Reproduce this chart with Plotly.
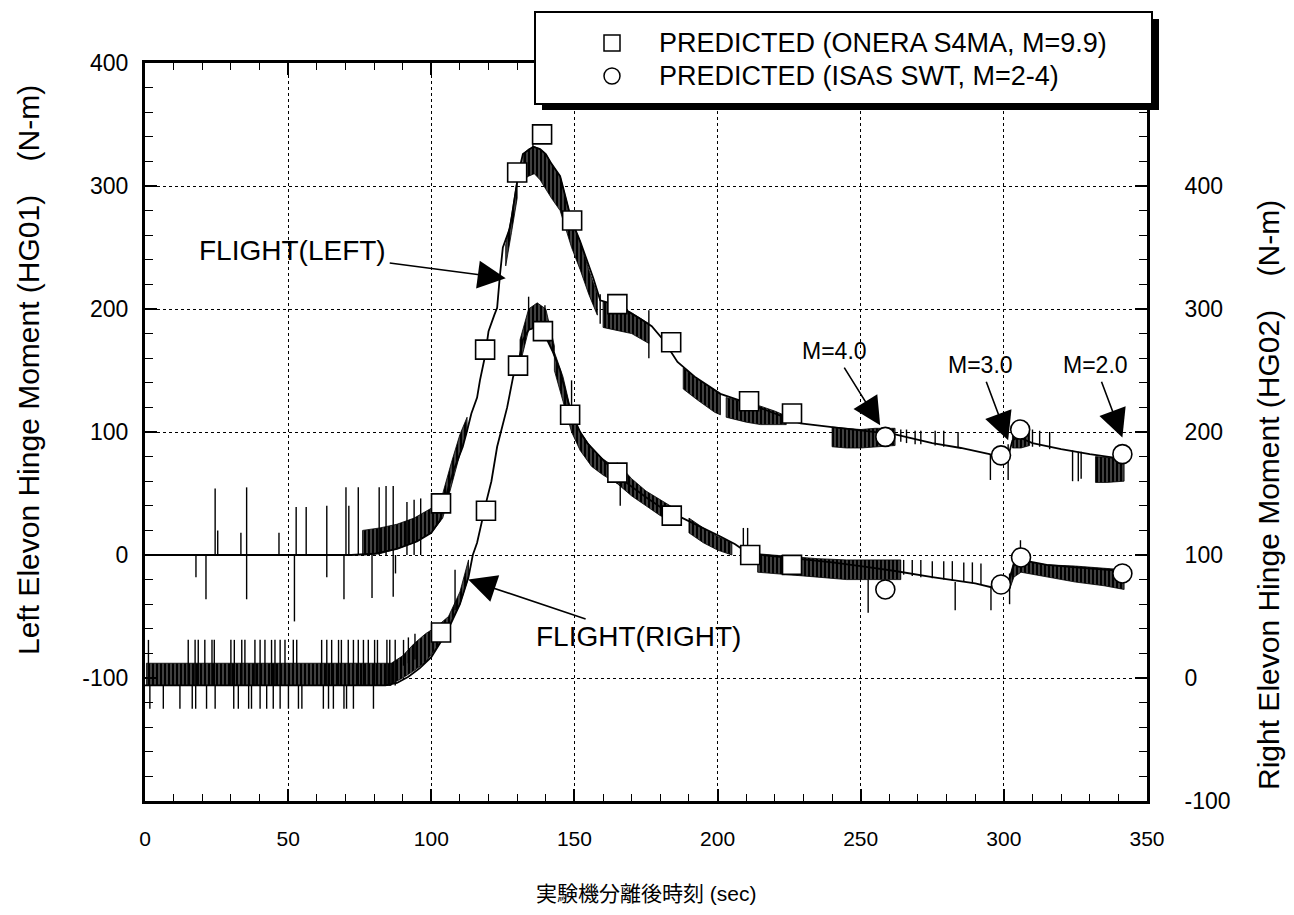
import plotly.graph_objects as go

# ---------------- data ----------------
# Left elevon (HG01) flight trace, left-axis units (N-m)
left_t = [0, 72, 80, 88, 95, 100, 103, 106, 108, 110, 111, 112.5, 114, 116, 117, 118.8, 120, 122, 123,
          124, 125, 127.5, 129, 130.5, 132, 135.6, 138, 140, 142, 145, 147, 149, 152, 156.6, 159, 165,
          173, 177, 181, 186, 192, 201, 211, 220, 229, 240, 252, 262, 275, 285, 295, 298, 301.5, 303,
          305, 310, 320, 330, 342]
left_v = [0, 0, 1, 5, 11, 18, 28, 55, 70, 82, 88, 101, 115, 128, 142, 162, 182, 195, 201,
          228, 250, 266, 288, 311, 326, 332, 330, 326, 318, 308, 290, 272, 255, 225, 207, 203,
          192, 186, 175, 157, 145, 131, 123, 115, 107, 104, 101, 98, 91, 87, 82, 80, 80, 93,
          96, 91, 86, 82, 78]

# hatched noise bands of the left trace: (time, lower, upper)
left_band_t = [
    [76, 82, 88, 94, 100, 104, 107, 110, 112.5],
    [126, 128, 130],
    [132, 134, 136, 138, 140, 142, 145, 147, 149, 152, 155, 158],
    [160, 166, 170, 176],
    [188, 193, 199, 201],
    [203, 210, 215, 220, 224],
    [240, 245, 250, 255, 262],
    [303, 306, 309],
    [332, 336, 342],
]
left_band_lo = [
    [0, 1, 5, 10, 18, 30, 55, 82, 101],
    [235, 262, 290],
    [305, 308, 310, 305, 298, 290, 280, 265, 250, 232, 212, 195],
    [185, 182, 180, 172],
    [135, 126, 116, 114],
    [112, 108, 106, 106, 106],
    [88, 87, 87, 88, 89],
    [87, 87, 89],
    [59, 59, 60],
]
left_band_hi = [
    [20, 22, 25, 30, 38, 50, 75, 98, 112],
    [252, 275, 305],
    [326, 330, 332, 330, 326, 318, 308, 290, 272, 255, 232, 212],
    [206, 202, 197, 188],
    [152, 143, 134, 131],
    [128, 124, 121, 117, 113],
    [104, 103, 102, 103, 103],
    [103, 103, 101],
    [80, 79, 78],
]

# isolated spikes of the left trace
left_spike_t = [17.8, 21.3, 24.5, 25.4, 33.5, 35.5, 46.8, 52.2, 52.8, 56.3, 63.5, 69.5, 70.2, 71.2,
                74.5, 79.3, 81.8, 84.2, 86.7, 87.5, 91.5, 94.0, 96.3, 135.5, 159, 176, 226, 229,
                264, 266, 269, 271, 276, 279, 284, 295.3, 301.5, 310, 312.5, 316, 324, 326, 327]
left_spike_lo = [-18, -36, 0, 0, 0, -36, 0, -54, 0, 0, -18, -36, 0, 0,
                 0, -35, 0, 0, -34, -15, 0, 0, 0, 326, 188, 160, 108, 107,
                 92, 91, 90, 90, 89, 88, 87, 61, 61, 88, 88, 86, 60, 60, 62]
left_spike_hi = [0, 0, 54, 20, 18, 55, 18, 0, 39, 39, 40, 0, 55, 40,
                 55, 0, 55, 56, 56, 0, 43, 45, 46, 349, 212, 199, 118, 119,
                 102, 102, 101, 101, 101, 101, 100, 82, 90, 102, 101, 100, 85, 84, 84]

# Right elevon (HG02) flight trace, right-axis units (N-m)
right_t = [0, 84, 88, 92, 96, 100, 103.5, 107, 110, 113, 114.5, 116, 119.4, 121, 123, 126.5, 128.6,
           130.3, 132, 134, 136, 139, 142.5, 145, 148.5, 152, 154.5, 158, 161, 165, 168, 175, 180,
           186, 195, 201, 206, 211, 220, 229, 240, 250, 262, 275, 290, 297, 300, 302, 303.5, 306,
           315, 325, 342]
right_v = [-6, -6, -4, 1, 8, 17, 30, 45, 60, 82, 100, 110, 145, 160, 188, 220, 245,
           255, 275, 283, 285, 282, 265, 250, 218, 200, 191, 182, 175, 167, 159, 147, 139,
           132, 122, 115, 109, 101, 99, 97, 94, 91, 87, 82, 77, 73, 75, 80, 92, 96,
           92, 90, 87]

right_band_t = [
    [0.5, 30, 60, 86],
    [86, 90, 94, 98, 102, 106, 110, 113],
    [131, 134, 137, 140, 143],
    [143, 146, 149, 152, 156, 160, 165],
    [165, 170, 175, 180, 187],
    [190, 195, 200, 205],
    [214, 225, 235, 245, 255, 264],
    [302, 303.5, 306, 315, 325, 335, 342],
]
right_band_lo = [
    [-6, -6, -6, -6],
    [-5, 0, 6, 13, 25, 42, 60, 82],
    [255, 283, 285, 280, 262],
    [250, 225, 200, 185, 172, 165, 158],
    [158, 148, 140, 132, 125],
    [118, 110, 104, 100],
    [86, 84, 82, 80, 80, 80],
    [72, 82, 86, 82, 78, 75, 72],
]
right_band_hi = [
    [12, 12, 12, 12],
    [12, 18, 28, 36, 42, 50, 70, 96],
    [275, 300, 305, 300, 270],
    [265, 245, 215, 200, 187, 178, 170],
    [175, 162, 152, 145, 135],
    [130, 122, 115, 110],
    [101, 99, 97, 96, 96, 96],
    [82, 95, 95, 92, 91, 89, 88],
]

right_up_t = [1.2, 15.1, 17.5, 18.6, 20.9, 23.4, 24.2, 30.0, 31.2, 33.8, 34.9, 38.4, 40.2, 41.9,
              44.2, 45.4, 47.2, 48.9, 51.8, 53.0, 61.7, 63.5, 65.2, 67.6, 68.6, 71.0, 72.8, 74.5,
              76.3, 78.0, 80.2, 81.2, 84.5, 85.5, 87.4]
right_down_t = [1.7, 6.4, 12.2, 16.5, 17.7, 21.5, 24.5, 31.0, 32.6, 36.2, 37.2, 40.2, 42.5, 44.8,
                47.2, 50.1, 53.6, 54.8, 62.3, 64.1, 65.8, 69.5, 70.4, 72.8, 79.8]
right_spike_t = [90.3, 92.0, 94.3, 108.3, 134, 139.7, 149, 166, 209, 210.5, 252.6, 265, 268, 271,
                 275, 279, 282, 283, 286, 289, 292, 295.5, 302, 305.8]
right_spike_lo = [10, 12, 15, 55, 283, 280, 220, 140, 104, 104, 53, 84, 83, 82,
                  81, 80, 79, 55, 78, 77, 76, 55, 60, 92]
right_spike_hi = [31, 33, 36, 88, 310, 303, 242, 165, 122, 122, 80, 96, 96, 96,
                  95, 95, 95, 78, 94, 94, 93, 75, 85, 112]
right_noise_top = 31
right_noise_bottom = -25
right_noise_base = -6

# Predicted values
sq_left_t = [103.4, 118.8, 130, 138.7, 149.2, 165, 183.8, 211, 226]
sq_left_v = [42, 167, 311, 342, 272, 204, 173, 125, 115]
ci_left_t = [258.6, 299, 305.7, 341.4]
ci_left_v = [96, 81, 102, 82]
sq_right_t = [103.4, 119.1, 130.3, 139, 148.5, 165, 184, 211.4, 226]
sq_right_v = [37, 136, 254, 282, 214, 167, 132, 100, 92]
ci_right_t = [258.6, 299, 306, 341.4]
ci_right_v = [72, 76, 98, 85]

x_ticks = [0, 50, 100, 150, 200, 250, 300, 350]
left_ticks = [-100, 0, 100, 200, 300, 400]
right_ticks = [-100, 0, 100, 200, 300, 400]

FONT = "Liberation Sans, Arial, Helvetica, sans-serif"
INK = "black"


def band_polygons(ts, los, his):
    xs, ys = [], []
    for t, lo, hi in zip(ts, los, his):
        xs += list(t) + list(reversed(t)) + [t[0], None]
        ys += list(hi) + list(reversed(lo)) + [hi[0], None]
    return xs, ys


def segments(ts, los, his):
    xs, ys = [], []
    for t, lo, hi in zip(ts, los, his):
        xs += [t, t, None]
        ys += [lo, hi, None]
    return xs, ys


def tick_text(vals):
    return [str(v) for v in vals]   # plain hyphen for negatives


# dense vertical hatching: black with thin white gaps
hatch = dict(shape="|", size=4, solidity=0.25, fgcolor="white", bgcolor=INK)

fig = go.Figure()

# hatched bands
bx, by = band_polygons(left_band_t, left_band_lo, left_band_hi)
fig.add_trace(go.Scatter(x=bx, y=by, mode="lines", fill="toself", line=dict(width=0.8, color=INK),
                         fillcolor=INK, fillpattern=hatch, showlegend=False,
                         hoverinfo="skip", yaxis="y"))
bx, by = band_polygons(right_band_t, right_band_lo, right_band_hi)
fig.add_trace(go.Scatter(x=bx, y=by, mode="lines", fill="toself", line=dict(width=0.8, color=INK),
                         fillcolor=INK, fillpattern=hatch, showlegend=False,
                         hoverinfo="skip", yaxis="y2"))

# spikes
sx, sy = segments(left_spike_t, left_spike_lo, left_spike_hi)
fig.add_trace(go.Scatter(x=sx, y=sy, mode="lines", line=dict(width=1.4, color=INK),
                         showlegend=False, hoverinfo="skip", yaxis="y"))
rt = right_up_t + right_down_t + right_spike_t
rlo = [right_noise_base] * len(right_up_t) + [right_noise_bottom] * len(right_down_t) + right_spike_lo
rhi = [right_noise_top] * len(right_up_t) + [right_noise_base] * len(right_down_t) + right_spike_hi
sx, sy = segments(rt, rlo, rhi)
fig.add_trace(go.Scatter(x=sx, y=sy, mode="lines", line=dict(width=1.4, color=INK),
                         showlegend=False, hoverinfo="skip", yaxis="y2"))

# flight traces
fig.add_trace(go.Scatter(x=left_t, y=left_v, mode="lines", line=dict(width=1.8, color=INK),
                         name="FLIGHT(LEFT)", showlegend=False, yaxis="y"))
fig.add_trace(go.Scatter(x=right_t, y=right_v, mode="lines", line=dict(width=1.8, color=INK),
                         name="FLIGHT(RIGHT)", showlegend=False, yaxis="y2"))

# predictions
sq = dict(symbol="square", size=19, color="white", line=dict(width=1.6, color=INK))
ci = dict(symbol="circle", size=19, color="white", line=dict(width=1.6, color=INK))
fig.add_trace(go.Scatter(x=sq_left_t, y=sq_left_v, mode="markers", marker=sq, showlegend=False, yaxis="y"))
fig.add_trace(go.Scatter(x=ci_left_t, y=ci_left_v, mode="markers", marker=ci, showlegend=False, yaxis="y"))
fig.add_trace(go.Scatter(x=sq_right_t, y=sq_right_v, mode="markers", marker=sq, showlegend=False, yaxis="y2"))
fig.add_trace(go.Scatter(x=ci_right_t, y=ci_right_v, mode="markers", marker=ci, showlegend=False, yaxis="y2"))

# ---------------- layout ----------------
W, H = 1294, 915
ML, MR, MT, MB = 145, 147, 63, 114
PW, PH = W - ML - MR, H - MT - MB


def px(x):
    return (x - ML) / PW


def py(y):
    return (H - MB - y) / PH


grid = dict(showgrid=True, gridcolor=INK, gridwidth=1.3, griddash="dot")
fig.update_layout(
    width=W, height=H, margin=dict(l=ML, r=MR, t=MT, b=MB),
    paper_bgcolor="white", plot_bgcolor="white",
    font=dict(family=FONT, color=INK, size=20),
    showlegend=False,
    xaxis=dict(range=[0, 350], tickvals=x_ticks, ticktext=tick_text(x_ticks), ticks="inside",
               ticklen=12, tickwidth=1.5, tickcolor=INK, showline=True, linewidth=3,
               linecolor=INK, mirror="ticks", zeroline=False, ticklabelstandoff=17,
               tickfont=dict(size=21),
               minor=dict(dtick=10, tick0=0, ticks="inside", ticklen=7, tickwidth=1.2,
                          tickcolor=INK, showgrid=False),
               **grid),
    yaxis=dict(range=[-200, 400], tickvals=left_ticks, ticktext=tick_text(left_ticks),
               ticks="inside", ticklen=12, tickwidth=1.5, tickcolor=INK, showline=True,
               linewidth=3, linecolor=INK, mirror=False, zeroline=False, ticklabelstandoff=9,
               tickfont=dict(size=23),
               minor=dict(dtick=20, tick0=0, ticks="inside", ticklen=8, tickwidth=1.2,
                          tickcolor=INK, showgrid=False),
               **grid),
    yaxis2=dict(range=[-100, 500], overlaying="y", side="right", tickvals=right_ticks,
                ticktext=tick_text(right_ticks), ticks="inside", ticklen=12, tickwidth=1.5,
                tickcolor=INK, showline=True, linewidth=3, linecolor=INK, showgrid=False,
                zeroline=False, ticklabelstandoff=30, tickfont=dict(size=23),
                minor=dict(dtick=20, tick0=0, ticks="inside", ticklen=8, tickwidth=1.2,
                           tickcolor=INK, showgrid=False)),
)

NB = "\u00a0"
annotations = [
    dict(text="Left Elevon Hinge Moment (HG01)" + NB * 4 + "(N-m)", textangle=-90,
         x=px(28), y=py(370), xref="paper", yref="paper", xanchor="center", yanchor="middle",
         showarrow=False, font=dict(size=30, family=FONT)),
    dict(text="Right Elevon Hinge Moment (HG02)" + NB * 4 + "(N-m)", textangle=-90,
         x=px(1268), y=py(495), xref="paper", yref="paper", xanchor="center", yanchor="middle",
         showarrow=False, font=dict(size=30, family=FONT)),
    dict(text="実験機分離後時刻 (sec)", x=px(646), y=py(893), xref="paper", yref="paper",
         xanchor="center", yanchor="middle", showarrow=False,
         font=dict(size=21, family=FONT + ", Noto Sans CJK JP")),
]

arrow = dict(showarrow=True, arrowhead=2, arrowsize=3.5, arrowwidth=1.6, arrowcolor=INK,
             standoff=0, startstandoff=2)
annotations += [
    dict(text="FLIGHT(LEFT)", x=126, y=225, xref="x", yref="y", ax=-213, ay=-28,
         font=dict(size=28), **arrow),
    dict(text="FLIGHT(RIGHT)", x=112.9, y=-20, xref="x", yref="y", ax=170, ay=57,
         font=dict(size=28), **arrow),
    dict(text="M=4.0", x=256.8, y=105.4, xref="x", yref="y", ax=-46, ay=-74,
         font=dict(size=23), **arrow),
    dict(text="M=3.0", x=301.5, y=93.2, xref="x", yref="y", ax=-28, ay=-75,
         font=dict(size=23), **arrow),
    dict(text="M=2.0", x=341.4, y=95.6, xref="x", yref="y", ax=-27, ay=-72,
         font=dict(size=23), **arrow),
]

# key box with drop shadow
legend_items = ["PREDICTED (ONERA S4MA, M=9.9)", "PREDICTED (ISAS SWT, M=2-4)"]
annotations += [
    dict(text=legend_items[0], x=px(657), y=py(43), xref="paper", yref="paper", xanchor="left",
         yanchor="middle", showarrow=False, font=dict(size=27)),
    dict(text=legend_items[1], x=px(657), y=py(76), xref="paper", yref="paper", xanchor="left",
         yanchor="middle", showarrow=False, font=dict(size=27)),
]
shapes = [
    dict(type="rect", xref="paper", yref="paper", x0=px(542), x1=px(1159), y0=py(110), y1=py(19),
         fillcolor=INK, line=dict(width=0), layer="above"),
    dict(type="rect", xref="paper", yref="paper", x0=px(535), x1=px(1152), y0=py(104), y1=py(12),
         fillcolor="white", line=dict(width=2, color=INK), layer="above"),
    dict(type="rect", xref="paper", yref="paper", x0=px(604), x1=px(620), y0=py(51), y1=py(35),
         fillcolor="white", line=dict(width=1.5, color=INK), layer="above"),
    dict(type="circle", xref="paper", yref="paper", x0=px(604), x1=px(620), y0=py(84), y1=py(68),
         fillcolor="white", line=dict(width=1.5, color=INK), layer="above"),
]
fig.update_layout(annotations=annotations, shapes=shapes)

fig.write_html("out.html")
